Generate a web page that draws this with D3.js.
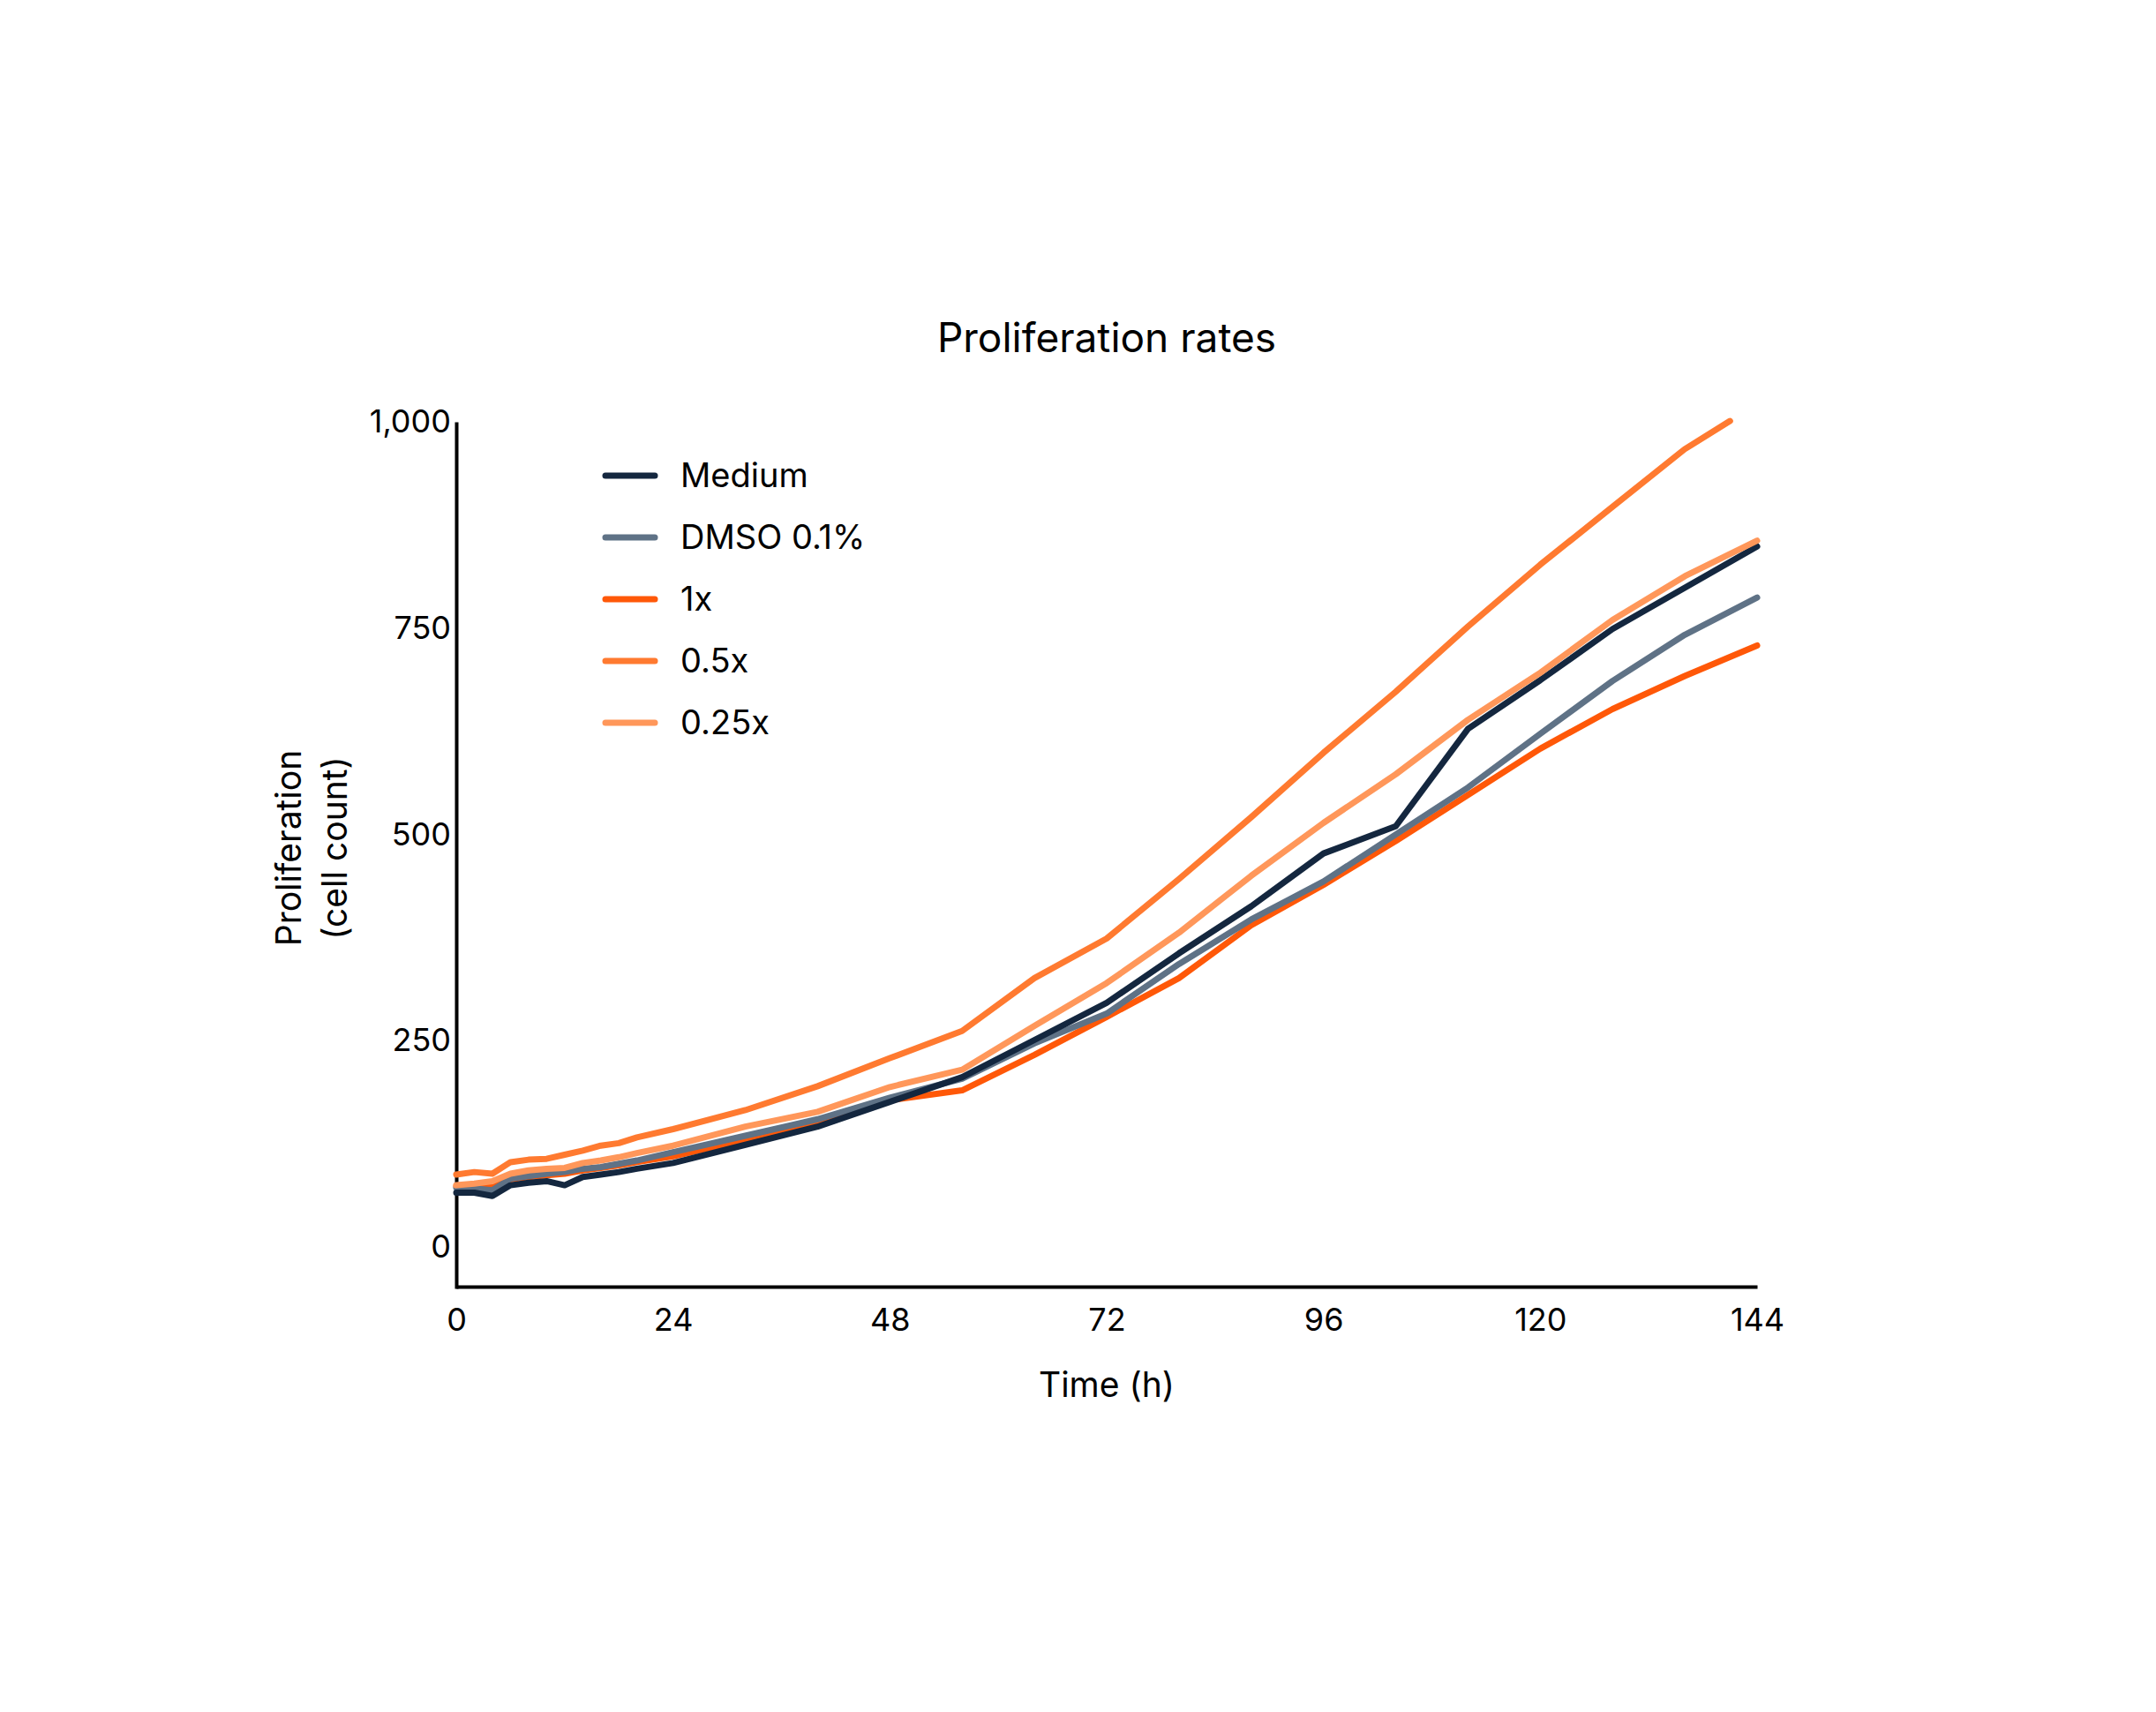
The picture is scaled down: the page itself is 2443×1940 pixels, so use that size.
<!DOCTYPE html>
<meta charset="utf-8">
<script src="https://d3js.org/d3.v7.min.js"></script>
<style>
  body { margin: 0; background: #fff; }
  text { font-family: Inter, "Noto Sans", sans-serif; fill: #000; }
</style>
<div id="chart"></div>
<script>

// time points (h)
var hours = [0, 2, 4, 6, 8, 10, 12, 14, 16, 18, 20, 24, 32, 40, 48, 56, 64, 72, 80, 88, 96, 104, 112, 120, 128, 136, 144];
// 0.5x stops just short of 144 h (it leaves the top of the plot)
var hours05 = [0, 2, 4, 6, 8, 10, 12, 14, 16, 18, 20, 24, 32, 40, 48, 56, 64, 72, 80, 88, 96, 104, 112, 120, 128, 136, 141];

// cell counts
var medium = [66, 66, 62, 75, 78, 80, 75, 85, 88, 91, 95, 102, 124, 146, 176, 206, 251, 296, 356, 413, 477, 510, 628, 687, 749, 799, 849];
var dmso   = [72, 71, 69, 83, 86, 89, 91, 95, 97, 101, 105, 115, 135, 155, 181, 204, 247, 283, 343, 397, 443, 500, 557, 622, 686, 742, 787];
var x1     = [74, 73, 76, 82, 85, 87, 89, 93, 96, 99, 103, 110, 130, 151, 178, 190, 233, 279, 326, 390, 439, 492, 548, 604, 652, 692, 729];
var x05    = [88, 91, 89, 103, 106, 107, 112, 117, 123, 126, 133, 143, 166, 195, 229, 262, 326, 374, 446, 521, 599, 673, 752, 827, 897, 967, 1001];
var x025   = [75, 77, 80, 89, 93, 95, 96, 102, 105, 109, 114, 123, 146, 164, 194, 215, 268, 320, 381, 450, 514, 573, 639, 696, 760, 813, 856];

var seriesNames = ["Medium", "DMSO 0.1%", "1x", "0.5x", "0.25x"];
var seriesColors = ["#14273f", "#5f7286", "#ff5808", "#ff7a30", "#ff975a"];

var xTicks = [0, 24, 48, 72, 96, 120, 144];
var yTicks = [0, 250, 500, 750, 1000];

var series = [
  {name: seriesNames[0], t: hours,   v: medium},
  {name: seriesNames[1], t: hours,   v: dmso},
  {name: seriesNames[2], t: hours,   v: x1},
  {name: seriesNames[3], t: hours05, v: x05},
  {name: seriesNames[4], t: hours,   v: x025}
];

var W = 2443, H = 1940;
var margin = {top: 478, right: 452, bottom: 480, left: 517},
    width = W - margin.left - margin.right,
    height = H - margin.top - margin.bottom;

var svg = d3.select("#chart")
  .append("svg")
    .attr("width", W)
    .attr("height", H)
  .append("g")
    .attr("transform", "translate(" + margin.left + "," + margin.top + ")");

var color = d3.scaleOrdinal().domain(seriesNames).range(seriesColors);

var x = d3.scaleLinear().domain([0, 144]).range([0, width]);
var y = d3.scaleLinear().domain([-50, 1000]).range([height, 0]);

// X axis
var xAxis = svg.append("g")
  .attr("transform", "translate(0," + (height - 2) + ")")
  .call(d3.axisBottom(x).tickValues(xTicks).tickSize(0).tickSizeOuter(0).tickPadding(24));
xAxis.select(".domain").attr("stroke", "#000").attr("stroke-width", 4);
xAxis.selectAll("text").style("font-size", "36px");

// Y axis
var yAxis = svg.append("g")
  .call(d3.axisLeft(y).tickValues(yTicks).tickFormat(d3.format(",")).tickSize(0).tickSizeOuter(0).tickPadding(6));
yAxis.select(".domain").attr("stroke", "#000").attr("stroke-width", 4);
yAxis.selectAll("text").style("font-size", "36px");

// title
svg.append("text")
  .attr("x", width / 2)
  .attr("y", -95)
  .attr("dy", "0.35em")
  .style("text-anchor", "middle")
  .style("font-size", "46px")
  .text("Proliferation rates");

// x label
svg.append("text")
  .attr("x", width / 2)
  .attr("y", height + 109)
  .attr("dy", "0.35em")
  .style("text-anchor", "middle")
  .style("font-size", "39px")
  .text("Time (h)");

// y label, two lines
var yl = svg.append("text")
  .attr("transform", "translate(-164," + 483 + ") rotate(-90)")
  .style("text-anchor", "middle")
  .style("font-size", "39px");
yl.append("tspan").attr("x", 0).attr("dy", "-0.3em").text("Proliferation");
yl.append("tspan").attr("x", 0).attr("dy", "1.33em").text("(cell count)");

// lines
var line = d3.line()
  .x(function(d) { return x(d[0]); })
  .y(function(d) { return y(d[1]); });

var drawOrder = [2, 1, 0, 3, 4];
drawOrder.forEach(function(i) {
  var s = series[i];
  var pts = s.t.map(function(t, j) { return [t, s.v[j]]; });
  svg.append("path")
    .datum(pts)
    .attr("d", line)
    .attr("fill", "none")
    .attr("stroke", color(s.name))
    .attr("stroke-width", 7)
    .attr("stroke-linejoin", "round")
    .attr("stroke-linecap", "round");
});

// legend
var legend = svg.append("g")
  .attr("transform", "translate(169,61)");

var item = legend.selectAll("g")
  .data(seriesNames)
  .enter()
  .append("g")
    .attr("transform", function(d, i) { return "translate(0," + (i * 70) + ")"; });

item.append("line")
  .attr("x1", 0).attr("x2", 56)
  .attr("stroke", function(d) { return color(d); })
  .attr("stroke-width", 7)
  .attr("stroke-linecap", "round");

item.append("text")
  .attr("x", 85)
  .attr("dy", "0.35em")
  .style("font-size", "38px")
  .text(function(d) { return d; });

</script>
